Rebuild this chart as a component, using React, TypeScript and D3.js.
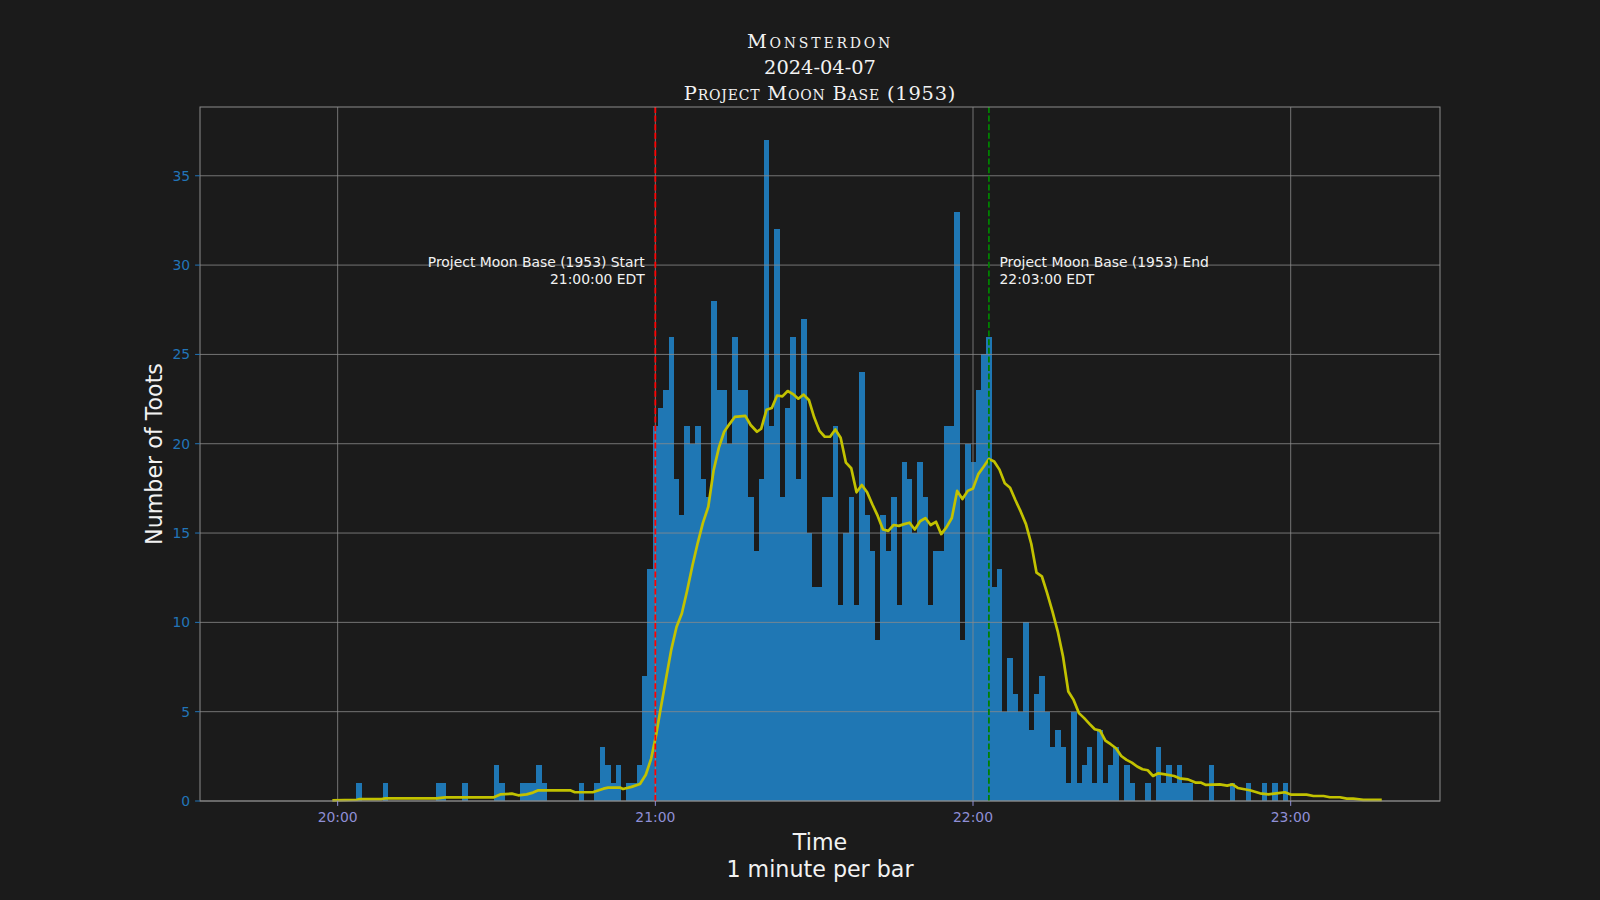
import React from "react";
import * as d3 from "d3";

// ---- data ----
// Toots per minute, index = minutes after 20:00
const toots: number[] = [
  0, 0, 0, 0, 1, 0, 0, 0, 0, 1,
  0, 0, 0, 0, 0, 0, 0, 0, 0, 1,
  1, 0, 0, 0, 1, 0, 0, 0, 0, 0,
  2, 1, 0, 0, 0, 1, 1, 1, 2, 1,
  0, 0, 0, 0, 0, 0, 1, 0, 0, 1,
  3, 2, 1, 2, 0, 1, 1, 2, 7, 13,
  21, 22, 23, 26, 18, 16, 21, 20, 21, 18,
  17, 28, 23, 23, 20, 26, 23, 23, 17, 14,
  18, 37, 21, 32, 17, 22, 26, 18, 27, 15,
  12, 12, 17, 17, 21, 11, 15, 17, 11, 24,
  16, 14, 9, 16, 14, 17, 11, 19, 18, 15,
  19, 17, 11, 14, 14, 21, 21, 33, 9, 20,
  19, 23, 25, 26, 12, 13, 5, 8, 6, 5,
  10, 4, 6, 7, 5, 3, 4, 3, 1, 5,
  1, 2, 3, 1, 4, 1, 2, 3, 0, 2,
  1, 0, 0, 1, 0, 3, 1, 2, 1, 2,
  1, 1, 0, 0, 0, 2, 0, 0, 0, 1,
  0, 0, 1, 0, 0, 1, 0, 1, 0, 1,
];

// Smoothed trend line (minutes after 20:00, value)
const smoothMin: number[] = [
  -1, 3.6, 4.2, 8.3, 9, 18.7, 20.3, 29.4, 30.7, 32.9, 34.1, 35.7, 36.9, 37.9, 43.9, 44.8, 48.3, 50.2, 51.1, 53.3,
  53.9, 55.5, 57.1, 58.2, 59.2, 60.1, 61, 62, 63, 64, 65, 66, 67, 68, 69, 70, 71, 72, 73, 74,
  75, 77, 78, 79.2, 80, 81, 82, 83, 84, 85, 86, 87, 88, 89, 90, 91, 92, 93, 94, 95,
  96, 97, 98, 99, 100, 101, 102, 103, 104, 105, 106, 107, 108, 109, 110, 111, 112, 113, 114, 115,
  116, 117, 118, 119, 120, 121, 122, 123, 124, 125, 126, 127, 128, 129, 130, 131, 132, 133, 134, 135,
  136, 137, 138, 139, 140, 141, 142, 143, 144, 145, 146, 147, 148, 149, 150, 151, 152, 153, 154, 155,
  156, 158, 159, 160.6, 162, 163, 164, 166.6, 168, 169, 170, 172.3, 174.2, 175.8, 177.3, 178.9, 180, 183, 184.3, 186.2,
  187.4, 189.3, 190.6, 191.8, 193.7, 197.2,
];
const smoothVal: number[] = [
  0.04, 0.07, 0.11, 0.11, 0.15, 0.15, 0.2, 0.2, 0.37, 0.41, 0.32, 0.37, 0.47, 0.6, 0.6, 0.49, 0.5, 0.69, 0.75, 0.75,
  0.67, 0.79, 0.95, 1.47, 2.36, 3.63, 5.16, 6.81, 8.46, 9.74, 10.5, 11.77, 13.17, 14.44, 15.58, 16.47, 18.5, 19.78, 20.67, 21.1,
  21.5, 21.56, 21.05, 20.67, 20.84, 21.9, 22.0, 22.7, 22.65, 22.95, 22.78, 22.52, 22.75, 22.45, 21.48, 20.72, 20.39, 20.39, 20.8, 20.34,
  18.94, 18.63, 17.28, 17.69, 17.28, 16.6, 15.96, 15.2, 15.12, 15.45, 15.4, 15.5, 15.58, 15.2, 15.66, 15.84, 15.45, 15.63, 14.94, 15.33,
  15.84, 17.36, 16.9, 17.36, 17.49, 18.3, 18.71, 19.14, 19.01, 18.55, 17.79, 17.54, 16.85, 16.21, 15.5, 14.4, 12.78, 12.58, 11.64, 10.62,
  9.5, 8.09, 6.13, 5.66, 4.92, 4.64, 4.32, 4.02, 3.94, 3.38, 3.18, 2.95, 2.52, 2.3, 2.15, 1.93, 1.78, 1.72, 1.4, 1.55,
  1.5, 1.4, 1.27, 1.21, 1.03, 1.03, 0.9, 0.93, 0.86, 0.93, 0.73, 0.6, 0.43, 0.37, 0.43, 0.49, 0.36, 0.36, 0.28, 0.28,
  0.21, 0.21, 0.13, 0.13, 0.06, 0.06,
];

const xTickMinutes: number[] = [0, 60, 120, 180];
const xTickLabels: string[] = ["20:00", "21:00", "22:00", "23:00"];
const yTicks: number[] = [0, 5, 10, 15, 20, 25, 30, 35];

const titleLines: string[] = ["Monsterdon", "2024-04-07", "Project Moon Base (1953)"];
const titleSpacing: number[] = [2.8, 0, 0.8];
const startMinute = 60;
const endMinute = 123;
const startLabel: string[] = ["Project Moon Base (1953) Start", "21:00:00 EDT"];
const endLabel: string[] = ["Project Moon Base (1953) End", "22:03:00 EDT"];

// ---- layout ----
const W = 1600;
const H = 900;
const L = 200;
const R = 1440;
const T = 107;
const B = 801;

const BG = "#1b1b1b";
const GRID = "#8c8c8c";
const SPINE = "#8c8c8c";
const BAR = "#1f77b4";
const LINE = "#c2c200";
const XTICK = "#8f8fd6";
const YTICK = "#2275b8";
const TEXT = "#f2f2f2";
const SANS = "'DejaVu Sans', sans-serif";

export default function App() {
  React.useEffect(() => {
    document.body.style.margin = "0";
    document.body.style.background = BG;
  }, []);

  const x = d3.scaleLinear().domain([-26.0, 208.2]).range([L, R]);
  const y = d3.scaleLinear().domain([0, 38.85]).range([B, T]);
  const bw = x(1) - x(0);

  const line = d3
    .line<number>()
    .x((_, i) => x(smoothMin[i]))
    .y((v) => y(v))
    .curve(d3.curveLinear);

  const y30 = y(30);

  return (
    <svg
      width={W}
      height={H}
      style={{ position: "absolute", left: 0, top: 0, display: "block" }}
      fontFamily={SANS}
    >
      <rect x={0} y={0} width={W} height={H} fill={BG} />

      {/* title */}
      {titleLines.map((t, i) => (
        <text
          key={t}
          x={(L + R) / 2}
          y={41 + i * 26.2}
          textAnchor="middle"
          dominantBaseline="central"
          fill={TEXT}
          fontFamily="'DejaVu Serif', serif"
          fontSize={19.4}
          letterSpacing={titleSpacing[i]}
          style={{ fontVariant: "small-caps" }}
        >
          {t}
        </text>
      ))}

      {/* bars */}
      <g>
        {toots.map((v, i) =>
          v > 0 ? (
            <rect
              key={i}
              x={x(i) - bw / 2}
              y={y(v)}
              width={bw + 0.3}
              height={y(0) - y(v)}
              fill={BAR}
              shapeRendering="crispEdges"
            />
          ) : null
        )}
      </g>

      {/* grid */}
      <g stroke={GRID} strokeWidth={0.8}>
        {yTicks.map((t) => (
          <line key={"gy" + t} x1={L} x2={R} y1={y(t)} y2={y(t)} />
        ))}
        {xTickMinutes.map((t) => (
          <line key={"gx" + t} x1={x(t)} x2={x(t)} y1={T} y2={B} />
        ))}
      </g>

      {/* smoothed line */}
      <path d={line(smoothVal) || ""} fill="none" stroke={LINE} strokeWidth={2.7} strokeLinejoin="round" />

      {/* start / end markers */}
      <line x1={x(startMinute)} x2={x(startMinute)} y1={T} y2={B} stroke="#ff0000" strokeWidth={1.8} strokeDasharray="6,2.6" />
      <line x1={x(endMinute)} x2={x(endMinute)} y1={T} y2={B} stroke="#008000" strokeWidth={1.8} strokeDasharray="6,2.6" />

      {startLabel.map((t, i) => (
        <text
          key={"s" + i}
          x={x(startMinute - 2)}
          y={y30 - 3.2 + i * 16.7}
          textAnchor="end"
          dominantBaseline="central"
          fill={TEXT}
          fontSize={13.9}
        >
          {t}
        </text>
      ))}
      {endLabel.map((t, i) => (
        <text
          key={"e" + i}
          x={x(endMinute + 2)}
          y={y30 - 3.2 + i * 16.7}
          textAnchor="start"
          dominantBaseline="central"
          fill={TEXT}
          fontSize={13.9}
        >
          {t}
        </text>
      ))}

      {/* spines */}
      <rect x={L} y={T} width={R - L} height={B - T} fill="none" stroke={SPINE} strokeWidth={1} />

      {/* y ticks */}
      {yTicks.map((t) => (
        <g key={"yt" + t}>
          <line x1={L - 4.9} x2={L} y1={y(t)} y2={y(t)} stroke={YTICK} strokeWidth={1} />
          <text x={L - 9.8} y={y(t)} textAnchor="end" dominantBaseline="central" fill={YTICK} fontSize={13.9}>
            {t}
          </text>
        </g>
      ))}

      {/* x ticks */}
      {xTickMinutes.map((t, i) => (
        <g key={"xt" + t}>
          <line x1={x(t)} x2={x(t)} y1={B} y2={B + 4.9} stroke={XTICK} strokeWidth={1} />
          <text x={x(t)} y={B + 15.5} textAnchor="middle" dominantBaseline="central" fill={XTICK} fontSize={13.9}>
            {xTickLabels[i]}
          </text>
        </g>
      ))}

      {/* axis labels */}
      <text x={(L + R) / 2} y={842} textAnchor="middle" dominantBaseline="central" fill={TEXT} fontSize={22.2}>
        Time
      </text>
      <text x={(L + R) / 2} y={868.5} textAnchor="middle" dominantBaseline="central" fill={TEXT} fontSize={22.2}>
        1 minute per bar
      </text>
      <text
        transform={`translate(154,${(T + B) / 2}) rotate(-90)`}
        textAnchor="middle"
        dominantBaseline="central"
        fill={TEXT}
        fontSize={22.2}
      >
        Number of Toots
      </text>
    </svg>
  );
}
